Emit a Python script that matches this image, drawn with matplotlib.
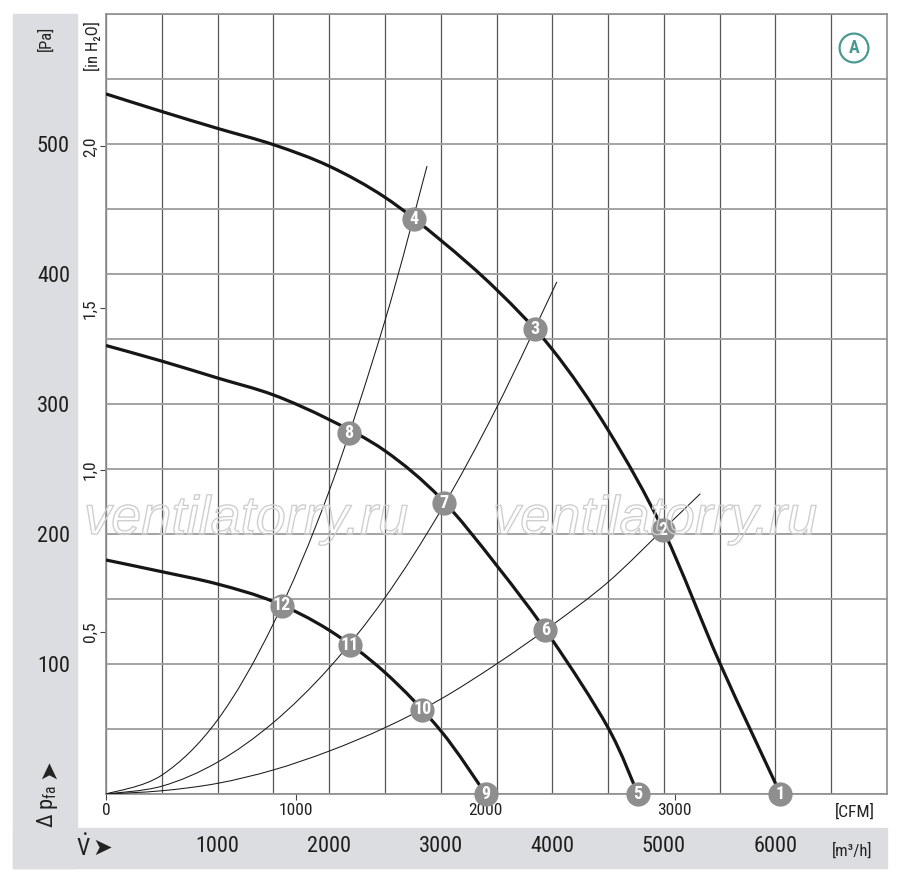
import numpy as np
import matplotlib
matplotlib.use("Agg")
import matplotlib.pyplot as plt
from matplotlib.path import Path
from matplotlib.patches import PathPatch, Rectangle
from matplotlib.ticker import MultipleLocator
from matplotlib import font_manager
import matplotlib.patheffects as pe

# ---------------- data ----------------
fan1_V = [0, 500, 1000, 1500, 2000, 2500, 3000, 3500, 4000, 4500, 5000, 5500, 6045]
fan1_P = [538.5, 525, 512, 499.5, 483, 459, 426, 388, 342, 280, 202, 101, 0]
fan2_V = [0, 500, 1000, 1500, 2000, 2500, 3000, 3500, 4000, 4500, 4767]
fan2_P = [345, 333, 320, 307, 288, 264, 227.5, 176, 118.5, 51, 0]
fan3_V = [0, 500, 1000, 1500, 2000, 2500, 3000, 3403]
fan3_P = [180, 171, 161.5, 148, 126, 93.5, 48.7, 0]

sysA_V = [0, 500, 1000, 1500, 2000, 2500, 2877]
sysA_P = [0, 14.5, 57, 131, 233, 364, 483]
sysB_V = [0, 500, 1000, 1500, 2000, 2500, 3000, 3500, 4041]
sysB_P = [0, 6, 24.5, 55, 97, 151, 218, 297, 394]
sysC_V = [0, 500, 1000, 1500, 2000, 2500, 3000, 3500, 4000, 4500, 5000, 5327]
sysC_P = [0, 2.5, 8.2, 18.5, 33, 51, 73, 100, 130, 163, 204, 231]

pt_labels = ["1", "2", "3", "4", "5", "6", "7", "8", "9", "10", "11", "12"]
pt_V = [6045, 4988, 3846, 2760, 4767, 3938, 3030, 2176, 3403, 2834, 2185, 1577]
pt_P = [0, 203, 358, 442, 0, 126, 224, 278, 0, 65, 115, 145]

pa_ticks = [100, 200, 300, 400, 500]
inh2o_ticks = [0.5, 1.0, 1.5, 2.0]
inh2o_labels = ["0,5", "1,0", "1,5", "2,0"]
m3h_ticks = [1000, 2000, 3000, 4000, 5000, 6000]
cfm_ticks = [0, 1000, 2000, 3000]
PA_PER_INH2O = 249.09
M3H_PER_CFM = 1.699

# ---------------- fonts ----------------
flist = font_manager.fontManager.ttflist
names = {f.name for f in flist}
NARROW = None
for cand in ["Roboto Condensed", "Liberation Sans Narrow", "Open Sans Condensed",
             "DejaVu Sans Condensed", "Noto Sans Condensed"]:
    if cand in names:
        NARROW = cand
        break
if NARROW is None:
    NARROW = "Roboto"
FAM = [NARROW, "DejaVu Sans"]
plt.rcParams["font.family"] = FAM
plt.rcParams["mathtext.fontset"] = "custom"
plt.rcParams["mathtext.rm"] = NARROW
plt.rcParams["mathtext.it"] = NARROW + ":italic"

W, H = 900, 880
fig = plt.figure(figsize=(9, 8.8), dpi=100)

def fx(px):
    return px / W

def fy(py):
    return 1 - py / H

band = "#dcdde0"
fig.patches.append(Rectangle((fx(13), fy(868)), fx(77) - fx(13), fy(14) - fy(868),
                             transform=fig.transFigure, color=band, zorder=-5))
fig.patches.append(Rectangle((fx(13), fy(868)), fx(887) - fx(13), fy(828) - fy(868),
                             transform=fig.transFigure, color=band, zorder=-5))

ax = fig.add_axes([fx(106), fy(794), fx(887) - fx(106), fy(14) - fy(794)])
ax.set_xlim(0, 7000)
ax.set_ylim(0, 600)
ax.set_facecolor("white")

ax.xaxis.set_minor_locator(MultipleLocator(500))
ax.yaxis.set_minor_locator(MultipleLocator(50))
ax.xaxis.grid(True, which="both", color="#575757", lw=0.9)
ax.yaxis.grid(True, which="both", color="#a3a3a3", lw=1.4)
ax.set_axisbelow(True)
for s in ax.spines.values():
    s.set_color("#8e8e8e")
    s.set_linewidth(1.2)
ax.tick_params(which="minor", length=0)

ax.set_yticks(pa_ticks)
ax.set_yticklabels([str(v) for v in pa_ticks])
ax.tick_params(axis="y", which="major", length=0, pad=26, labelsize=16, labelcolor="#1e1e1e")

ax.set_xticks(m3h_ticks)
ax.set_xticklabels([str(v) for v in m3h_ticks])
ax.tick_params(axis="x", which="major", length=0, pad=30, labelsize=16, labelcolor="#1e1e1e")

sec_y = ax.secondary_yaxis("left", functions=(lambda p: p / PA_PER_INH2O,
                                              lambda i: i * PA_PER_INH2O))
sec_y.set_yticks(inh2o_ticks)
sec_y.set_yticklabels(inh2o_labels)
sec_y.tick_params(length=4.3, width=0.8, color="#444", pad=1.5, labelsize=12.5, labelcolor="#222")
for lab in sec_y.get_yticklabels():
    lab.set_rotation(90)
    lab.set_va("center")
sec_y.spines["left"].set_visible(False)

sec_x = ax.secondary_xaxis("bottom", functions=(lambda v: v / M3H_PER_CFM,
                                                lambda c: c * M3H_PER_CFM))
sec_x.set_xticks(cfm_ticks)
sec_x.set_xticklabels([str(v) for v in cfm_ticks])
sec_x.tick_params(length=4.3, width=0.8, color="#444", pad=2.5, labelsize=12.5, labelcolor="#222")
sec_x.spines["bottom"].set_visible(False)

def smooth_path(xs, ys):
    pts = np.column_stack([xs, ys]).astype(float)
    n = len(pts)
    verts = [pts[0]]
    codes = [Path.MOVETO]
    for i in range(n - 1):
        p0 = pts[i - 1] if i > 0 else pts[i]
        p1 = pts[i]
        p2 = pts[i + 1]
        p3 = pts[i + 2] if i + 2 < n else pts[i + 1]
        verts += [p1 + (p2 - p0) / 6.0, p2 - (p3 - p1) / 6.0, p2]
        codes += [Path.CURVE4] * 3
    return Path(verts, codes)

for xs, ys in [(sysA_V, sysA_P), (sysB_V, sysB_P), (sysC_V, sysC_P)]:
    ax.add_patch(PathPatch(smooth_path(xs, ys), fill=False, ec="#1a1a1a", lw=0.75, zorder=3))

for xs, ys in [(fan1_V, fan1_P), (fan2_V, fan2_P), (fan3_V, fan3_P)]:
    ax.add_patch(PathPatch(smooth_path(xs, ys), fill=False, ec="#161616", lw=2.3,
                           capstyle="butt", zorder=4))

ax.scatter(pt_V, pt_P, s=305, color="#8e8e8e", zorder=6, clip_on=False, linewidths=0)
for lab, v, p in zip(pt_labels, pt_V, pt_P):
    ax.text(v, p, lab, ha="center", va="center", color="white", fontsize=13,
            fontweight="bold", zorder=7, clip_on=False)

for cx in [246, 655]:
    fig.text(fx(cx), fy(520), "ventilatorry.ru", ha="center", va="center",
             fontsize=39, style="italic", family=["Liberation Sans", "DejaVu Sans"],
             color="none", zorder=10,
             path_effects=[pe.Stroke(linewidth=1.0, foreground="#cfcfcf")])

fig.text(fx(46), fy(38), "[Pa]", rotation=90, ha="center", va="center", fontsize=12, color="#222")
fig.text(fx(92), fy(46), "[in H\u2082O]", rotation=90, ha="center", va="center", fontsize=12,
         color="#222", family=FAM)
fig.text(fx(855), fy(812), "[CFM]", ha="center", va="center", fontsize=12.5, color="#222")
fig.text(fx(852), fy(851), "[m\u00b3/h]", ha="center", va="center", fontsize=12, color="#222",
         family=FAM)
fig.text(fx(48), fy(806), r"$\Delta$ p$_\mathregular{fa}$", rotation=90, ha="center",
         va="center", fontsize=16, color="#222")
fig.text(fx(48), fy(769), "\u27a4", rotation=90, ha="center", va="center", fontsize=17,
         color="#222", family=["DejaVu Sans"])
fig.text(fx(83), fy(848), r"$\dot{\mathregular{V}}$", ha="center", va="center", fontsize=17,
         color="#222")
fig.text(fx(102), fy(848), "\u27a4", ha="center", va="center", fontsize=17,
         color="#222", family=["DejaVu Sans"])

fig.text(fx(854), fy(48), "A", ha="center", va="center", fontsize=13, fontweight="bold",
         color="#4a9a93",
         bbox=dict(boxstyle="circle,pad=0.3", fc="white", ec="#4a9a93", lw=1.6))

fig.savefig("out.png", dpi=100)
